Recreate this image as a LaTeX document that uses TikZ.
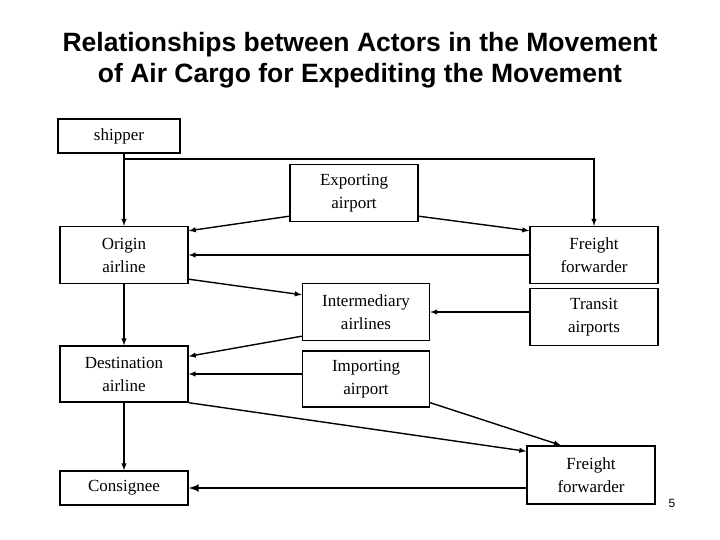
\documentclass[tikz,border=0pt]{standalone}
\usepackage{fontspec}
\setmainfont{Liberation Serif}
\newfontfamily\titlefont{Liberation Sans}
\begin{document}
\begin{tikzpicture}[x=1pt,y=-1pt,
  box/.style={draw,line width=1.4pt,inner sep=0pt,align=center,font=\fontsize{17}{23}\selectfont},
  arr/.style={-latex,line width=1.4pt}]
\useasboundingbox (0,0) rectangle (720,540);
\node[font=\titlefont\bfseries\fontsize{26.5}{31}\selectfont,align=center] (title) at (360,60) {Relationships between Actors in the Movement\\of Air Cargo for Expediting the Movement};
\node[box,minimum width=122pt,minimum height=34pt] (ship) at (119,136) {shipper};
\node[box,minimum width=128pt,minimum height=57pt] (exp) at (354,193) {Exporting\\airport};
\node[box,minimum width=128pt,minimum height=57pt] (orig) at (124,255) {Origin\\airline};
\node[box,minimum width=128pt,minimum height=57pt] (ff) at (594,255) {Freight\\forwarder};
\node[box,minimum width=127pt,minimum height=57pt] (inter) at (366,312) {Intermediary\\airlines};
\node[box,minimum width=128pt,minimum height=57pt] (tran) at (594,317) {Transit\\airports};
\node[box,minimum width=128pt,minimum height=56pt] (dest) at (124,374) {Destination\\airline};
\node[box,minimum width=127pt,minimum height=56pt] (imp) at (366,379) {Importing\\airport};
\node[box,minimum width=128pt,minimum height=34pt] (cons) at (124,488) {Consignee};
\node[box,minimum width=128pt,minimum height=58pt] (ff2) at (591,475) {Freight\\forwarder};
\node[font=\titlefont\fontsize{12}{14}\selectfont] (pg) at (672,503) {5};
\coordinate (j) at (124,159);
\draw[arr] (ship.south -| j) -- (orig.north);
\draw[arr] (j) -| (ff.north);
\draw[arr] ([yshift=6pt]exp.south west) -- ([yshift=-5pt]orig.north east);
\draw[arr] ([yshift=6pt]exp.south east) -- ([yshift=-5pt]ff.north west);
\draw[arr] (ff.west) -- (ff.west -| orig.east);
\draw[arr] ([yshift=5pt]orig.south east) -- ([yshift=-12pt]inter.north west);
\coordinate (t1) at ([yshift=5pt]tran.west);
\draw[arr] (t1) -- (t1 -| inter.east);
\draw[arr] ([yshift=5pt]inter.south west) -- ([yshift=-11pt]dest.north east);
\coordinate (i1) at ([yshift=5pt]imp.west);
\draw[arr] (i1) -- (i1 -| dest.east);
\draw[arr] (orig.south) -- (dest.north);
\draw[arr] (dest.south) -- (cons.north);
\draw[arr] (dest.south east) -- ([yshift=-6pt]ff2.north west);
\draw[arr] ([yshift=5pt]imp.south east) -- ([xshift=-30pt]ff2.north);
\draw[arr,line width=2.4pt] (ff2.west |- cons) -- (cons.east);
\end{tikzpicture}
\end{document}
